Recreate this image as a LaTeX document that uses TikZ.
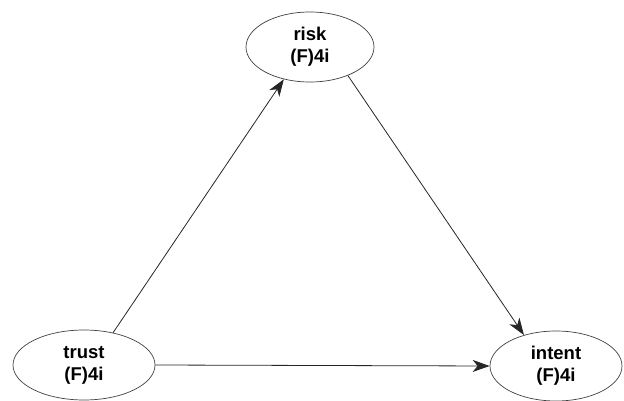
\documentclass[tikz,border=0pt]{standalone}
\usepackage{fontspec}
\setmainfont{Liberation Sans}
\usetikzlibrary{shapes.geometric,arrows.meta}
\begin{document}
\begin{tikzpicture}[x=1pt,y=-1pt,
  var/.style={ellipse,draw=black!75,line width=0.7pt,inner sep=0pt,minimum height=70pt,align=center,
    font=\fontsize{18.5}{22}\selectfont\bfseries},
  link/.style={draw=black!85,line width=0.8pt,-{Stealth[length=17pt,width=12pt,inset=5pt]}}]
\useasboundingbox (0,0) rectangle (624,401);
\node[var,minimum width=128pt] (risk) at (310,47) {risk\\(F)4i};
\node[var,minimum width=142pt] (trust) at (84,365) {trust\\(F)4i};
\node[var,minimum width=132pt] (intent) at (556,366) {intent\\(F)4i};
\draw[link] (trust.48) -- (risk.231);
\draw[link] (risk.-37) -- (intent.136);
\draw[link] (trust.east) -- (intent.west);
\end{tikzpicture}
\end{document}
